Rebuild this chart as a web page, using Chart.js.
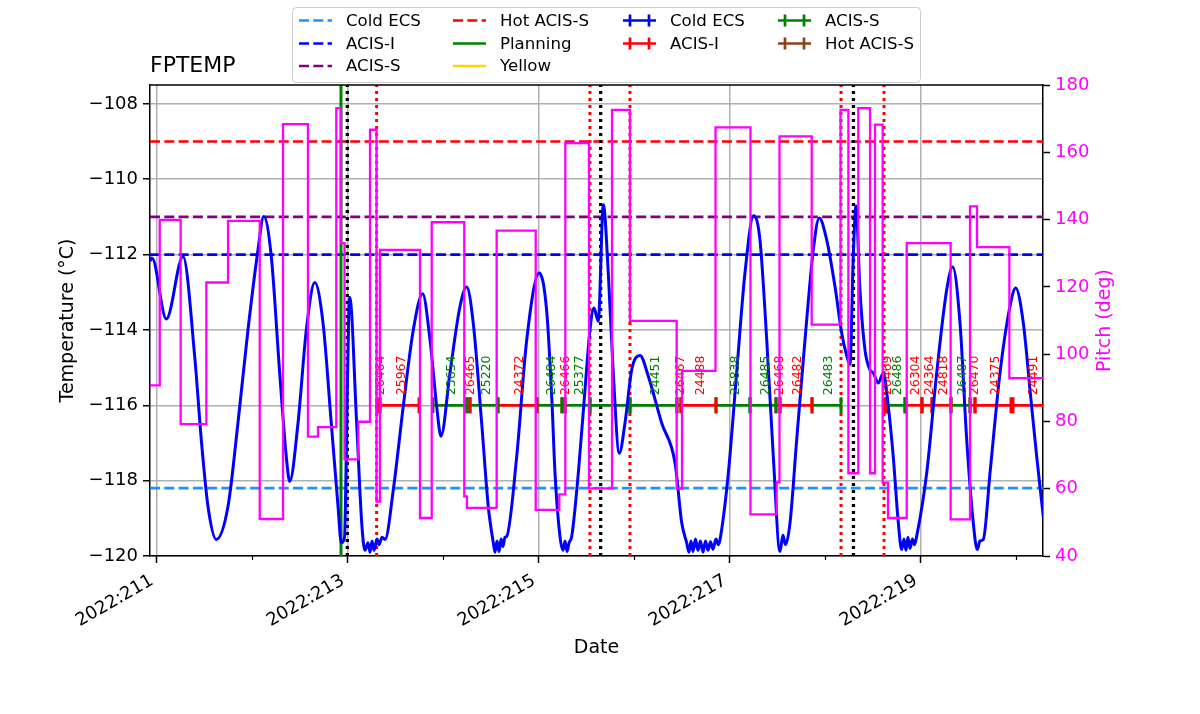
<!DOCTYPE html>
<html>
<head>
<meta charset="utf-8">
<title>FPTEMP</title>
<script src="https://cdn.jsdelivr.net/npm/chart.js@4.4.0/dist/chart.umd.min.js"></script>
<style>
    html, body { margin: 0; padding: 0; background: #ffffff; }
    .chartWrapper { width: 1200px; height: 714px; }
</style>
</head>
<body>
<div class="chartWrapper"><canvas id="myChart" width="1200" height="714"></canvas></div>
<script>
// x axis = day of year 2022 (fractional)
var xMin = 210.934;
var xMax = 220.285;

var tempTimes = [
    210.934, 210.955, 211.105, 211.280, 211.402, 211.471, 211.541, 211.628, 211.751, 211.855,
    211.960, 212.065, 212.125, 212.204, 212.292, 212.361, 212.397, 212.484, 212.571, 212.659,
    212.746, 212.832, 212.903, 212.937, 212.971, 213.000, 213.025, 213.098, 213.151, 213.185,
    213.217, 213.238, 213.259, 213.280, 213.311, 213.332, 213.364, 213.395, 213.482, 213.586,
    213.691, 213.789, 213.866, 213.936, 213.981, 214.075, 214.180, 214.250, 214.319, 214.407,
    214.476, 214.529, 214.547, 214.568, 214.589, 214.610, 214.630, 214.651, 214.669, 214.774,
    214.879, 215.010, 215.088, 215.143, 215.175, 215.227, 215.259, 215.280, 215.301, 215.322,
    215.350, 215.419, 215.489, 215.541, 215.583, 215.628, 215.681, 215.733, 215.785, 215.848,
    215.908, 215.978, 216.065, 216.152, 216.292, 216.432, 216.502, 216.554, 216.578, 216.599,
    216.620, 216.646, 216.672, 216.698, 216.725, 216.751, 216.777, 216.803, 216.829, 216.861,
    216.885, 216.920, 216.990, 217.077, 217.164, 217.255, 217.321, 217.392, 217.461, 217.531,
    217.562, 217.588, 217.636, 217.706, 217.793, 217.880, 217.942, 218.020, 218.107, 218.177,
    218.222, 218.264, 218.298, 218.327, 218.368, 218.421, 218.473, 218.508, 218.560, 218.613,
    218.665, 218.717, 218.770, 218.805, 218.829, 218.850, 218.871, 218.892, 218.918, 218.939,
    218.962, 219.067, 219.172, 219.277, 219.339, 219.416, 219.486, 219.555, 219.597, 219.625,
    219.660, 219.730, 219.835, 219.939, 219.999, 220.079, 220.149, 220.219, 220.288
];
var tempValues = [
    -112.17, -112.09, -113.71, -112.05, -114.70, -116.91, -118.68, -119.56, -118.68, -116.47,
    -114.00, -111.87, -110.99, -112.05, -115.14, -117.36, -118.02, -116.47, -114.00, -112.74,
    -113.82, -116.47, -118.68, -119.65, -119.50, -115.59, -113.13, -116.47, -119.12, -119.85,
    -119.65, -119.90, -119.60, -119.85, -119.55, -119.70, -119.50, -119.56, -118.24, -116.03,
    -114.00, -113.04, -114.26, -116.03, -116.82, -115.14, -113.38, -112.86, -113.82, -116.47,
    -118.68, -119.65, -119.90, -119.60, -119.88, -119.55, -119.75, -119.50, -119.48, -117.36,
    -114.26, -112.49, -113.50, -115.90, -117.80, -119.48, -119.85, -119.60, -119.88, -119.65,
    -119.48, -117.80, -115.59, -114.00, -113.42, -113.77, -110.68, -112.49, -115.14, -117.27,
    -116.47, -115.06, -114.68, -115.23, -116.47, -117.53, -119.12, -119.65, -119.90, -119.60,
    -119.88, -119.55, -119.85, -119.60, -119.90, -119.60, -119.85, -119.62, -119.82, -119.55,
    -119.70, -119.30, -117.80, -115.14, -112.49, -110.97, -111.61, -114.26, -117.36, -119.88,
    -119.45, -119.70, -119.12, -116.91, -114.26, -111.87, -111.03, -111.61, -112.85, -114.08,
    -114.61, -114.92, -112.05, -110.71, -112.93, -114.53, -115.06, -115.14, -115.41, -115.14,
    -116.03, -117.36, -119.12, -119.83, -119.55, -119.85, -119.50, -119.80, -119.55, -119.70,
    -119.48, -117.80, -115.14, -112.93, -112.33, -113.82, -116.91, -119.12, -119.83, -119.60,
    -119.56, -117.80, -115.14, -113.38, -112.89, -113.82, -115.59, -117.36, -118.95
];

// pitch is a step series: value holds from its time until the next one
var pitchTimes = [
    210.934, 211.036, 211.255, 211.524, 211.751, 212.083, 212.327, 212.588, 212.693, 212.885,
    212.934, 212.971, 213.115, 213.238, 213.306, 213.342, 213.761, 213.884, 214.225, 214.253,
    214.564, 214.973, 215.220, 215.283, 215.531, 215.772, 215.960, 216.449, 216.505, 216.856,
    217.222, 217.496, 217.526, 217.863, 218.165, 218.247, 218.351, 218.474, 218.526, 218.606,
    218.662, 218.858, 219.318, 219.521, 219.594, 219.933, 220.285
];
var pitchValues = [
    90.7, 139.9, 79.2, 121.3, 139.6, 51.0, 168.4, 75.5, 78.3, 173.1,
    133.0, 68.7, 79.9, 166.7, 56.2, 131.0, 51.3, 139.2, 57.7, 54.3,
    136.7, 53.7, 58.3, 162.7, 60.1, 172.6, 109.9, 60.0, 95.0, 167.4,
    52.4, 61.9, 164.7, 108.8, 172.6, 64.6, 173.1, 64.6, 168.2, 61.8,
    51.3, 133.0, 50.9, 143.9, 131.8, 92.9, 92.9
];

var limitNames = ['Cold ECS', 'ACIS-I', 'ACIS-S', 'Hot ACIS-S'];
var limitValues = [-118.2, -112.0, -111.0, -109.0];

var planningTimes = [212.934];
var commTimes = [213.000, 215.653, 218.300];
var loadTimes = [213.307, 215.541, 215.960, 218.170, 218.620];

var obsLevel = -116;
var obsIds = ['26464', '25967', '23654', '26465', '25220', '24372', '26484', '26466', '25377', '',
    '24451', '26467', '24488', '25838', '26485', '26468', '26482', '26483', '26469', '26486',
    '26304', '24364', '24818', '26487', '26470', '24375', '24491'];
var obsStart = [213.311, 213.342, 213.897, 214.253, 214.285, 214.578, 214.986, 215.248, 215.280, 215.541,
    215.960, 216.452, 216.494, 216.861, 217.217, 217.489, 217.531, 217.866, 218.630, 218.651,
    218.840, 219.018, 219.123, 219.322, 219.521, 219.573, 219.971];
var obsStop = [213.342, 213.751, 214.253, 214.285, 214.578, 214.986, 215.248, 215.280, 215.541, 215.960,
    216.452, 216.494, 216.861, 217.217, 217.489, 217.531, 217.866, 218.170, 218.651, 218.840,
    219.018, 219.123, 219.322, 219.521, 219.573, 219.950, 220.360];
var obsInstr = ['I', 'I', 'S', 'I', 'S', 'I', 'S', 'I', 'S', 'S',
    'S', 'I', 'I', 'S', 'S', 'I', 'I', 'S', 'I', 'S',
    'I', 'I', 'I', 'S', 'I', 'I', 'I'];

var dayTicks = [211, 212, 213, 214, 215, 216, 217, 218, 219, 220];
var tempTicks = [-120, -118, -116, -114, -112, -110, -108];
var pitchTicks = [40, 60, 80, 100, 120, 140, 160, 180];

var FONT = 'DejaVu Sans';
var limitColors = ['#1e90ff', '#0000ff', '#800080', '#ff0000'];
var instrColors = { I: '#ff0000', S: '#008000' };

function toPoints(times, values) {
    return times.map(function (t, i) { return { x: t, y: values[i] }; });
}

var datasets = [];
datasets.push({
    label: 'Pitch', data: toPoints(pitchTimes, pitchValues), yAxisID: 'y2',
    borderColor: '#ff00ff', borderWidth: 2.3, stepped: true, pointRadius: 0, order: 0
});
var tempIndex = datasets.length;
datasets.push({
    label: 'FPTEMP', data: toPoints(tempTimes, tempValues), yAxisID: 'y',
    borderColor: '#0000ff', borderWidth: 3, cubicInterpolationMode: 'monotone', pointRadius: 0, order: 1
});
obsIds.forEach(function (id, i) {
    var c = instrColors[obsInstr[i]];
    datasets.push({
        label: id, data: [{ x: obsStart[i], y: obsLevel }, { x: obsStop[i], y: obsLevel }], yAxisID: 'y',
        borderColor: c, borderWidth: 2.7, pointStyle: 'line', pointRotation: 90, pointRadius: 8,
        pointBorderColor: c, pointBackgroundColor: c, pointBorderWidth: 3, order: 2
    });
});
planningTimes.forEach(function (t) {
    datasets.push({ label: 'Planning', data: [{ x: t, y: -120 }, { x: t, y: -107.5 }], yAxisID: 'y',
        borderColor: '#008000', borderWidth: 3, pointRadius: 0, order: 3 });
});
loadTimes.forEach(function (t) {
    datasets.push({ label: 'load', data: [{ x: t, y: -120 }, { x: t, y: -107.5 }], yAxisID: 'y',
        borderColor: '#ff0000', borderWidth: 3, borderDash: [3, 4], pointRadius: 0, order: 3 });
});
commTimes.forEach(function (t) {
    datasets.push({ label: 'comm', data: [{ x: t, y: -120 }, { x: t, y: -107.5 }], yAxisID: 'y',
        borderColor: '#000000', borderWidth: 3.3, borderDash: [3, 4], pointRadius: 0, order: 3 });
});
limitValues.forEach(function (v, i) {
    datasets.push({ label: limitNames[i], data: [{ x: xMin, y: v }, { x: xMax, y: v }], yAxisID: 'y',
        borderColor: limitColors[i], borderWidth: 2.7, borderDash: [10, 4.3], pointRadius: 0, order: 4 });
});

// legend (column-first like matplotlib ncol=4)
var legendLabels = ['Cold ECS', 'ACIS-I', 'ACIS-S', 'Hot ACIS-S', 'Planning', 'Yellow', 'Cold ECS', 'ACIS-I', 'ACIS-S', 'Hot ACIS-S'];
var legendColors = ['#1e90ff', '#0000ff', '#800080', '#ff0000', '#008000', '#ffd700', '#0000ff', '#ff0000', '#008000', '#8b4513'];
var legendKinds = ['dash', 'dash', 'dash', 'dash', 'solid', 'solid', 'err', 'err', 'err', 'err'];
var legendCols = [0, 0, 0, 1, 1, 1, 2, 2, 3, 3];
var legendRows = [0, 1, 2, 0, 1, 2, 0, 1, 0, 1];

function drawLegend(ctx) {
    var bx = 292.5, by = 7.5, bw = 628, bh = 75, r = 4;
    var colX = [299, 453, 623, 778];
    var rowY = [20.5, 43.5, 66];
    ctx.save();
    ctx.beginPath();
    ctx.moveTo(bx + r, by);
    ctx.arcTo(bx + bw, by, bx + bw, by + bh, r);
    ctx.arcTo(bx + bw, by + bh, bx, by + bh, r);
    ctx.arcTo(bx, by + bh, bx, by, r);
    ctx.arcTo(bx, by, bx + bw, by, r);
    ctx.closePath();
    ctx.fillStyle = 'rgba(255,255,255,0.8)';
    ctx.fill();
    ctx.strokeStyle = '#cccccc';
    ctx.lineWidth = 1;
    ctx.stroke();

    legendLabels.forEach(function (lab, i) {
        var x = colX[legendCols[i]], y = rowY[legendRows[i]], len = 33;
        ctx.save();
        ctx.strokeStyle = legendColors[i];
        ctx.lineWidth = 2.7;
        if (legendKinds[i] === 'dash') ctx.setLineDash([10, 4.3]);
        ctx.beginPath();
        ctx.moveTo(x, y);
        ctx.lineTo(x + len, y);
        ctx.stroke();
        if (legendKinds[i] === 'err') {
            ctx.setLineDash([]);
            ctx.beginPath();
            [x + len / 2 - 9.5, x + len / 2 + 9.5].forEach(function (cx) {
                ctx.moveTo(cx, y - 6);
                ctx.lineTo(cx, y + 6);
            });
            ctx.stroke();
        }
        ctx.restore();
        ctx.fillStyle = '#000';
        ctx.font = '16.6px "' + FONT + '"';
        ctx.textAlign = 'left';
        ctx.textBaseline = 'middle';
        ctx.fillText(lab, x + 47, y + 1);
    });
    ctx.restore();
}

var decorPlugin = {
    id: 'decor',
    afterDatasetDraw: function (chart, args) {
        if (args.index !== tempIndex) return;
        // obsid labels sit above the bars, under the pitch curve
        var ctx = chart.ctx, xs = chart.scales.x, ys = chart.scales.y;
        var fs = 12.5;
        ctx.save();
        ctx.font = fs + 'px "' + FONT + '"';
        ctx.textAlign = 'left';
        ctx.textBaseline = 'alphabetic';
        obsIds.forEach(function (id, i) {
            if (!id) return;
            var xm = xs.getPixelForValue((obsStart[i] + obsStop[i]) / 2);
            var y0 = ys.getPixelForValue(obsLevel) - 10;
            ctx.save();
            ctx.translate(xm, y0);
            ctx.rotate(-Math.PI / 2);
            ctx.fillStyle = instrColors[obsInstr[i]];
            ctx.fillText(id, 0, 1 + 0.36 * fs);
            ctx.restore();
        });
        ctx.restore();
    },
    afterDraw: function (chart) {
        var ctx = chart.ctx, a = chart.chartArea, xs = chart.scales.x;
        ctx.save();
        // top spine
        ctx.strokeStyle = '#000';
        ctx.lineWidth = 1.5;
        ctx.beginPath();
        ctx.moveTo(a.left - 0.75, a.top);
        ctx.lineTo(a.right + 0.75, a.top);
        ctx.stroke();

        // x ticks and rotated date labels
        var th = Math.PI / 6, fs = 18;
        ctx.font = fs + 'px "' + FONT + '"';
        dayTicks.forEach(function (d) {
            var px = Math.round(xs.getPixelForValue(d)) + 0.5;
            var major = d % 2 === 1;
            ctx.lineWidth = major ? 1.5 : 1.2;
            ctx.beginPath();
            ctx.moveTo(px, a.bottom);
            ctx.lineTo(px, a.bottom + (major ? 7 : 4));
            ctx.stroke();
            if (!major) return;
            var lab = '2022:' + d;
            var w = ctx.measureText(lab).width, h = fs * 1.164, desc = fs * 0.236;
            var ox = px - w * Math.cos(th);
            var oy = a.bottom + 13 + w * Math.sin(th) + h * Math.cos(th);
            ctx.save();
            ctx.translate(ox, oy);
            ctx.rotate(-th);
            ctx.fillStyle = '#000';
            ctx.textAlign = 'left';
            ctx.textBaseline = 'alphabetic';
            ctx.fillText(lab, 0, -desc);
            ctx.restore();
        });

        // axis titles
        ctx.font = '19px "' + FONT + '"';
        ctx.textAlign = 'center';
        ctx.textBaseline = 'middle';
        ctx.fillStyle = '#000';
        ctx.fillText('Date', (a.left + a.right) / 2, 648);
        ctx.save();
        ctx.translate(68, (a.top + a.bottom) / 2);
        ctx.rotate(-Math.PI / 2);
        ctx.fillText('Temperature (\u00B0C)', 0, 0);
        ctx.restore();
        ctx.save();
        ctx.translate(1105, (a.top + a.bottom) / 2);
        ctx.rotate(-Math.PI / 2);
        ctx.fillStyle = '#ff00ff';
        ctx.fillText('Pitch (deg)', 0, 0);
        ctx.restore();

        // title
        ctx.font = '22px "' + FONT + '"';
        ctx.textAlign = 'left';
        ctx.textBaseline = 'alphabetic';
        ctx.fillStyle = '#000';
        ctx.fillText('FPTEMP', a.left, 72);
        ctx.restore();

        drawLegend(ctx);
    }
};

var tickFont = { family: FONT, size: 18 };
var ctx = document.getElementById('myChart').getContext('2d');
var myChart = new Chart(ctx, {
    type: 'line',
    data: { datasets: datasets },
    options: {
        responsive: false,
        animation: false,
        devicePixelRatio: 1,
        events: [],
        layout: { padding: { top: 85, left: 0, right: 0, bottom: 0 } },
        plugins: { legend: { display: false }, tooltip: { enabled: false } },
        scales: {
            x: {
                type: 'linear', position: 'bottom', min: xMin, max: xMax,
                afterBuildTicks: function (s) { s.ticks = dayTicks.map(function (v) { return { value: v }; }); },
                afterFit: function (s) { s.height = 158; },
                ticks: { display: false },
                grid: {
                    color: function (c) { return (c.tick && c.tick.value % 2 === 1) ? '#b0b0b0' : 'rgba(0,0,0,0)'; },
                    lineWidth: 1.5, drawTicks: false
                },
                border: { display: true, color: '#000', width: 1.5 }
            },
            y: {
                position: 'left', min: -120, max: -107.5,
                afterBuildTicks: function (s) { s.ticks = tempTicks.map(function (v) { return { value: v }; }); },
                afterFit: function (s) { s.width = 150; },
                ticks: {
                    font: tickFont, color: '#000', padding: 5, autoSkip: false,
                    callback: function (v) { return String(v).replace('-', '\u2212'); }
                },
                grid: { color: '#b0b0b0', lineWidth: 1.5, tickLength: 7, tickColor: '#000', tickWidth: 1.5 },
                border: { color: '#000', width: 1.5 }
            },
            y2: {
                position: 'right', min: 40, max: 180,
                afterBuildTicks: function (s) { s.ticks = pitchTicks.map(function (v) { return { value: v }; }); },
                afterFit: function (s) { s.width = 157; },
                ticks: { font: tickFont, color: '#ff00ff', padding: 5, autoSkip: false },
                grid: { drawOnChartArea: false, tickLength: 7, tickColor: '#000', tickWidth: 1.5 },
                border: { color: '#000', width: 1.5 }
            }
        }
    },
    plugins: [decorPlugin]
});
</script>
</body>
</html>
